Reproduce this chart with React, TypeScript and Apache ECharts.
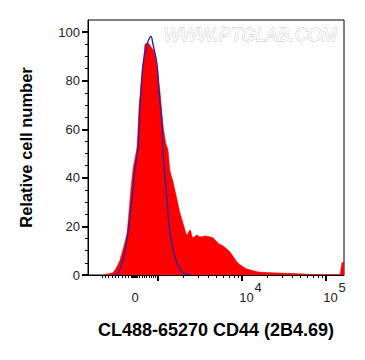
import React, { useEffect, useRef } from "react";
import * as echarts from "echarts";

// Histogram bins on the display (channel) scale, 0..256
const cd44Channel = [16, 20, 25, 29, 32, 36, 39, 42, 45, 49, 51, 54, 56, 57, 60, 63, 66, 69, 72, 75, 78, 80, 82, 85, 88, 92, 96, 99, 102, 105, 109, 112, 117, 122, 125, 130, 135, 142, 149, 154, 159, 172, 192, 212, 225, 249, 252, 254, 256];
const cd44Counts = [0, 0.5, 1, 3.5, 6.2, 12, 17.4, 31, 43.4, 53, 69, 82.6, 90, 95, 95.5, 94, 92, 85.5, 75.6, 62, 54, 51.6, 43, 38.5, 33, 25.6, 20, 16.5, 18.6, 15.3, 16.5, 15.7, 16.1, 15.7, 15.3, 13.2, 12, 9.5, 5.4, 3.7, 2.5, 1.2, 0.8, 0.5, 0.2, 0.1, 0.3, 5, 5.5];

const isoChannel = [27, 30, 32, 35, 40, 44, 47, 50, 52, 55, 59, 63, 65, 69, 71, 74, 75, 79, 82, 87, 94, 102];
const isotypeCounts = [0, 0.5, 2.5, 6.2, 17.4, 31, 43.4, 52, 69, 86.8, 95, 98.3, 95, 86.8, 75.6, 62, 50.8, 31, 17.4, 7.4, 1.2, 0];

// Fluorescence tick values
const xMajorTicks = [1e3, 1e4, 1e5];
const xLabelValues = [0, 1e4, 1e5];
const xMinorTicks = [
  -1000, -900, -800, -700, -600, -500, -400, -300, -200, -100,
  -80, -60, -40, -20, 0, 20, 40, 60, 80,
  100, 200, 300, 400, 500, 600, 700, 800, 900,
  2000, 3000, 4000, 5000, 6000, 7000, 8000, 9000,
  20000, 30000, 40000, 50000, 60000, 70000, 80000, 90000,
];
const yMajorTicks = [0, 20, 40, 60, 80, 100];
const yMinorTicks = [5, 10, 15, 25, 30, 35, 45, 50, 55, 65, 70, 75, 85, 90, 95];

const X_MIN = 0;
const X_MAX = 256;
const Y_MIN = 0;
const Y_MAX = 105;

// biexponential-like display transform (value -> channel)
function toChannel(v: number): number {
  if (v >= 1000) return 70 + 84 * Math.log10(v / 1000);
  if (v >= 0) return 47 + v * 0.023;
  if (v >= -1000) return 47 + v * 0.033;
  return 14 - 84 * Math.log10(-v / 1000);
}

function labelFor(ch: number): string {
  for (const v of xLabelValues) {
    if (Math.abs(toChannel(v) - ch) < 0.01) {
      if (v === 0) return "{gap| }\n{zero|0}";
      return "{sup|" + Math.round(Math.log10(v)) + "}\n{base|10}";
    }
  }
  return "";
}

export default function App() {
  const ref = useRef<HTMLDivElement>(null);
  useEffect(() => {
    if (!ref.current) return;
    const chart = echarts.init(ref.current, undefined, { renderer: "svg" });
    const font = "'Liberation Sans', Arial, sans-serif";
    chart.setOption({
      animation: false,
      backgroundColor: "#ffffff",
      grid: {
        left: 88,
        top: 20,
        width: 256,
        height: 255,
        show: true,
        borderColor: "#000",
        borderWidth: 1,
        backgroundColor: "transparent",
      },
      graphic: [
        {
          type: "text",
          left: 163,
          top: 26,
          z: 1,
          style: {
            text: "WWW.PTGLAB.COM",
            fontSize: 18,
            fontStyle: "italic",
            fontFamily: font,
            fill: "#ffffff",
            stroke: "#c2c2c2",
            lineWidth: 0.8,
          },
        },
      ],
      xAxis: [
        {
          type: "value",
          min: X_MIN,
          max: X_MAX,
          position: "bottom",
          name: "CL488-65270 CD44 (2B4.69)",
          nameLocation: "middle",
          nameGap: 46,
          nameTextStyle: { fontSize: 18, fontWeight: "bold", color: "#000", fontFamily: font },
          axisLine: { show: true, onZero: false, lineStyle: { color: "#000", width: 1 } },
          axisTick: {
            show: true,
            length: 6,
            customValues: xMajorTicks.map(toChannel),
            lineStyle: { color: "#000", width: 2 },
          },
          axisLabel: {
            show: true,
            margin: 8,
            customValues: xLabelValues.map(toChannel),
            formatter: (val: number) => labelFor(val),
            color: "#222",
            fontFamily: font,
            rich: {
              gap: { fontSize: 13, lineHeight: 8, color: "#222", fontFamily: font },
              zero: { fontSize: 13, lineHeight: 13, color: "#222", fontFamily: font },
              sup: { fontSize: 13, lineHeight: 8, padding: [0, 0, 0, 32.2], color: "#222", fontFamily: font },
              base: { fontSize: 13, lineHeight: 13, padding: [0, 8, 0, 17], color: "#222", fontFamily: font },
            },
          },
          splitLine: { show: false },
        },
        {
          type: "value",
          min: X_MIN,
          max: X_MAX,
          position: "bottom",
          axisLine: { show: false, onZero: false },
          axisTick: {
            show: true,
            length: 3,
            customValues: xMinorTicks.map(toChannel),
            lineStyle: { color: "#000", width: 1 },
          },
          axisLabel: { show: false },
          splitLine: { show: false },
        },
      ],
      yAxis: [
        {
          type: "value",
          min: Y_MIN,
          max: Y_MAX,
          position: "left",
          name: "Relative cell number",
          nameLocation: "middle",
          nameGap: 54,
          nameTextStyle: { fontSize: 16.5, fontWeight: "bold", color: "#000", fontFamily: font },
          axisLine: { show: true, onZero: false, lineStyle: { color: "#000", width: 1 } },
          axisTick: {
            show: true,
            length: 6,
            customValues: yMajorTicks,
            lineStyle: { color: "#000", width: 2 },
          },
          axisLabel: {
            show: true,
            margin: 8,
            customValues: yMajorTicks,
            fontSize: 13,
            color: "#222",
            fontFamily: font,
          },
          splitLine: { show: false },
        },
        {
          type: "value",
          min: Y_MIN,
          max: Y_MAX,
          position: "left",
          axisLine: { show: false, onZero: false },
          axisTick: {
            show: true,
            length: 3,
            customValues: yMinorTicks,
            lineStyle: { color: "#000", width: 1 },
          },
          axisLabel: { show: false },
          splitLine: { show: false },
        },
      ],
      series: [
        {
          name: "CD44",
          type: "line",
          xAxisIndex: 0,
          yAxisIndex: 0,
          data: cd44Channel.map((c, i) => [c, cd44Counts[i]]),
          symbol: "none",
          smooth: 0.2,
          lineStyle: { width: 0.5, color: "#ff0000" },
          areaStyle: { color: "#ff0000", opacity: 1 },
          z: 2,
        },
        {
          name: "Isotype",
          type: "line",
          xAxisIndex: 0,
          yAxisIndex: 0,
          data: isoChannel.map((c, i) => [c, isotypeCounts[i]]),
          symbol: "none",
          smooth: 0.3,
          lineStyle: { width: 1.4, color: "#33239a" },
          z: 3,
        },
      ],
    });
    return () => chart.dispose();
  }, []);
  return <div ref={ref} style={{ width: 365, height: 360, position: "absolute", left: 0, top: 0 }} />;
}
